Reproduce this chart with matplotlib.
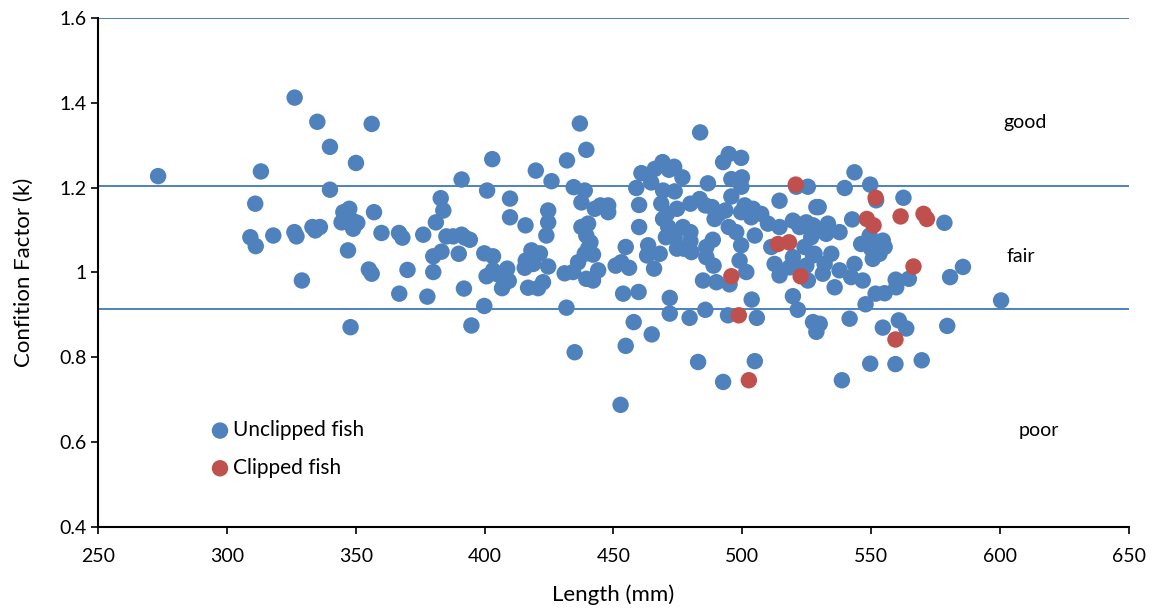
import matplotlib
matplotlib.use("Agg")
import matplotlib.pyplot as plt

plt.rcParams['font.family'] = ['Lato', 'DejaVu Sans']

unclipped_length = [
    273.3, 326.3, 335.1, 340.0, 313.2, 340.0, 311.0, 309.1, 311.2, 318.0, 326.2, 327.0, 333.2, 336.1, 334.3,
    329.1, 347.0, 348.0, 350.1, 356.2, 391.1, 403.0, 401.0, 409.9, 419.9, 426.0, 432.0, 437.0, 439.5, 434.6,
    438.9, 437.6, 442.8, 445.0, 448.0, 448.0, 383.0, 384.0, 381.1, 345.2, 347.5, 344.5, 349.0, 350.6, 349.0,
    357.1, 360.0, 366.8, 368.1, 376.2, 385.2, 387.8, 391.1, 392.4, 394.3, 380.1, 383.3, 390.0, 399.9, 403.3,
    400.8, 403.3, 405.3, 408.8, 409.4, 406.8, 355.1, 356.2, 370.1, 380.1, 366.9, 377.8, 392.0, 399.9, 394.9,
    409.9, 415.9, 424.7, 424.7, 424.0, 418.2, 421.5, 416.0, 415.6, 418.9, 424.7, 431.1, 434.4, 436.3, 416.9,
    420.8, 422.7, 439.5, 431.8, 435.0, 437.6, 440.2, 439.5, 441.1, 440.2, 442.1, 438.9, 442.1, 444.1, 452.8,
    454.8, 450.9, 453.1, 456.1, 453.8, 459.8, 457.9, 454.8, 464.9, 460.0, 460.0, 458.9, 460.9, 466.1, 469.1,
    473.6, 476.8, 464.7, 471.6, 463.5, 463.1, 468.0, 465.8, 469.3, 473.8, 468.6, 470.8, 474.7, 469.3, 471.3,
    470.4, 473.8, 474.7, 477.0, 479.9, 479.9, 480.3, 477.3, 471.9, 471.9, 479.6, 485.7, 482.9, 492.6, 483.7,
    486.7, 479.9, 483.5, 485.7, 488.3, 490.9, 489.3, 493.5, 492.6, 494.8, 499.6, 495.8, 499.9, 499.7, 495.8,
    488.6, 486.1, 486.1, 488.9, 484.8, 490.0, 495.1, 494.8, 497.7, 499.6, 499.0, 501.6, 501.0, 504.2, 507.4,
    510.0, 504.9, 503.5, 499.6, 514.5, 514.5, 519.7, 524.9, 528.1, 528.8, 525.5, 521.0, 494.5, 505.7, 503.7,
    504.9, 519.7, 521.6, 527.5, 528.8, 511.3, 512.6, 514.5, 519.7, 518.4, 525.5, 524.9, 528.1, 539.8, 543.6,
    549.7, 552.0, 562.6, 529.7, 578.5, 542.7, 524.2, 527.5, 533.3, 532.6, 537.8, 526.8, 522.3, 546.2, 549.5,
    554.6, 555.3, 550.1, 553.3, 550.7, 527.5, 524.2, 534.6, 532.0, 537.8, 531.3, 522.3, 543.6, 542.3, 546.8,
    535.9, 559.6, 564.7, 559.8, 551.8, 555.3, 547.9, 580.7, 585.7, 600.5, 530.1, 541.7, 554.6, 560.8, 563.7,
    579.6, 549.7, 559.5, 569.7, 538.7,
]
unclipped_k = [
    1.227, 1.412, 1.355, 1.296, 1.238, 1.195, 1.162, 1.083, 1.062, 1.087, 1.095, 1.085, 1.107, 1.107, 1.099,
    0.981, 1.052, 0.871, 1.258, 1.350, 1.219, 1.267, 1.193, 1.174, 1.240, 1.215, 1.264, 1.351, 1.289, 1.201,
    1.193, 1.165, 1.150, 1.158, 1.158, 1.142, 1.175, 1.146, 1.118, 1.142, 1.150, 1.118, 1.121, 1.117, 1.103,
    1.142, 1.093, 1.093, 1.082, 1.089, 1.085, 1.085, 1.089, 1.082, 1.077, 1.038, 1.049, 1.044, 1.045, 1.038,
    0.991, 1.005, 0.995, 1.009, 0.980, 0.963, 1.007, 0.997, 1.006, 1.001, 0.950, 0.943, 0.962, 0.921, 0.875,
    1.130, 1.111, 1.146, 1.118, 1.087, 1.052, 1.045, 1.028, 1.011, 1.020, 1.014, 0.998, 1.001, 1.024, 0.964,
    0.963, 0.977, 0.985, 0.917, 0.812, 1.107, 1.115, 1.087, 1.071, 1.056, 1.042, 1.044, 0.981, 1.005, 0.688,
    1.060, 1.016, 1.024, 1.011, 0.950, 0.954, 0.883, 0.827, 0.854, 1.107, 1.159, 1.199, 1.234, 1.244, 1.260,
    1.249, 1.224, 1.212, 1.242, 1.064, 1.040, 1.044, 1.009, 1.193, 1.191, 1.162, 1.138, 1.150, 1.126, 1.107,
    1.083, 1.083, 1.056, 1.107, 1.095, 1.074, 1.048, 1.056, 0.940, 0.903, 0.893, 0.912, 0.789, 0.742, 1.330,
    1.210, 1.162, 1.173, 1.158, 1.154, 1.138, 1.126, 1.146, 1.260, 1.279, 1.270, 1.220, 1.224, 1.202, 1.179,
    1.077, 1.060, 1.036, 1.016, 0.981, 0.977, 0.972, 1.107, 1.095, 1.064, 1.028, 1.001, 1.158, 1.150, 1.138,
    1.115, 1.087, 1.130, 1.142, 1.169, 1.107, 1.122, 1.118, 1.107, 1.154, 1.202, 1.202, 0.899, 0.893, 0.936,
    0.791, 0.944, 0.912, 0.883, 0.860, 1.060, 1.020, 0.993, 1.036, 1.012, 0.981, 1.016, 1.044, 1.199, 1.236,
    1.207, 1.170, 1.176, 1.154, 1.117, 1.125, 1.115, 1.111, 1.115, 1.091, 1.095, 1.083, 1.107, 1.067, 1.087,
    1.075, 1.060, 1.056, 1.044, 1.032, 1.040, 1.060, 1.044, 1.020, 1.005, 0.997, 1.005, 1.020, 0.989, 0.981,
    0.965, 0.983, 0.985, 0.965, 0.950, 0.951, 0.925, 0.989, 1.013, 0.934, 0.879, 0.891, 0.870, 0.887, 0.868,
    0.874, 0.785, 0.784, 0.793, 0.746,
]

clipped_length = [520.8, 513.9, 518.2, 495.8, 498.7, 502.6, 522.7, 551.8, 548.4, 551.0, 561.5, 570.4, 571.7, 566.5, 559.5]
clipped_k = [1.207, 1.067, 1.071, 0.991, 0.899, 0.746, 0.991, 1.176, 1.126, 1.111, 1.132, 1.138, 1.126, 1.014, 0.842]

class_limits = [1.6, 1.203, 0.915]
class_labels = ["good", "fair", "poor"]
class_label_x = [610, 608, 615]
class_label_y = [1.353, 1.038, 0.627]

x_ticks = [250, 300, 350, 400, 450, 500, 550, 600, 650]
y_ticks = [0.4, 0.6, 0.8, 1.0, 1.2, 1.4, 1.6]
y_tick_labels = ["0.4", "0.6", "0.8", "1", "1.2", "1.4", "1.6"]

fig = plt.figure(figsize=(11.54, 6.15), dpi=100)
ax = fig.add_axes([0.085, 0.143, 0.893, 0.828])

for lim in class_limits:
    ax.axhline(lim, color='#2f6db0', lw=1.2, zorder=1)

ax.scatter(unclipped_length, unclipped_k, s=140, color='#4f81bd', edgecolors='none',
           zorder=2, label='Unclipped fish')
ax.scatter(clipped_length, clipped_k, s=140, color='#c0504d', edgecolors='none',
           zorder=3, label='Clipped fish')

for lab, lx, ly in zip(class_labels, class_label_x, class_label_y):
    ax.text(lx, ly, lab, ha='center', va='center', fontsize=14, color='black')

ax.set_xlim(250, 650)
ax.set_ylim(0.4, 1.6)
ax.set_xticks(x_ticks)
ax.set_yticks(y_ticks)
ax.set_yticklabels(y_tick_labels)
ax.tick_params(axis='both', labelsize=14, direction='out', length=5, width=1.2, color='black')
ax.tick_params(axis='x', pad=10)
for side in ['top', 'right']:
    ax.spines[side].set_visible(False)
for side in ['left', 'bottom']:
    ax.spines[side].set_linewidth(1.5)
    ax.spines[side].set_color('black')

ax.set_xlabel('Length (mm)', fontsize=16, labelpad=14)
ax.set_ylabel('Confition Factor (k)', fontsize=16, labelpad=18)

leg = ax.legend(loc='lower left', bbox_to_anchor=(0.09, 0.06), frameon=False, fontsize=15,
                handletextpad=0.1, labelspacing=0.85, markerscale=1.0, handlelength=1.0)

fig.savefig('out.png', dpi=100)
